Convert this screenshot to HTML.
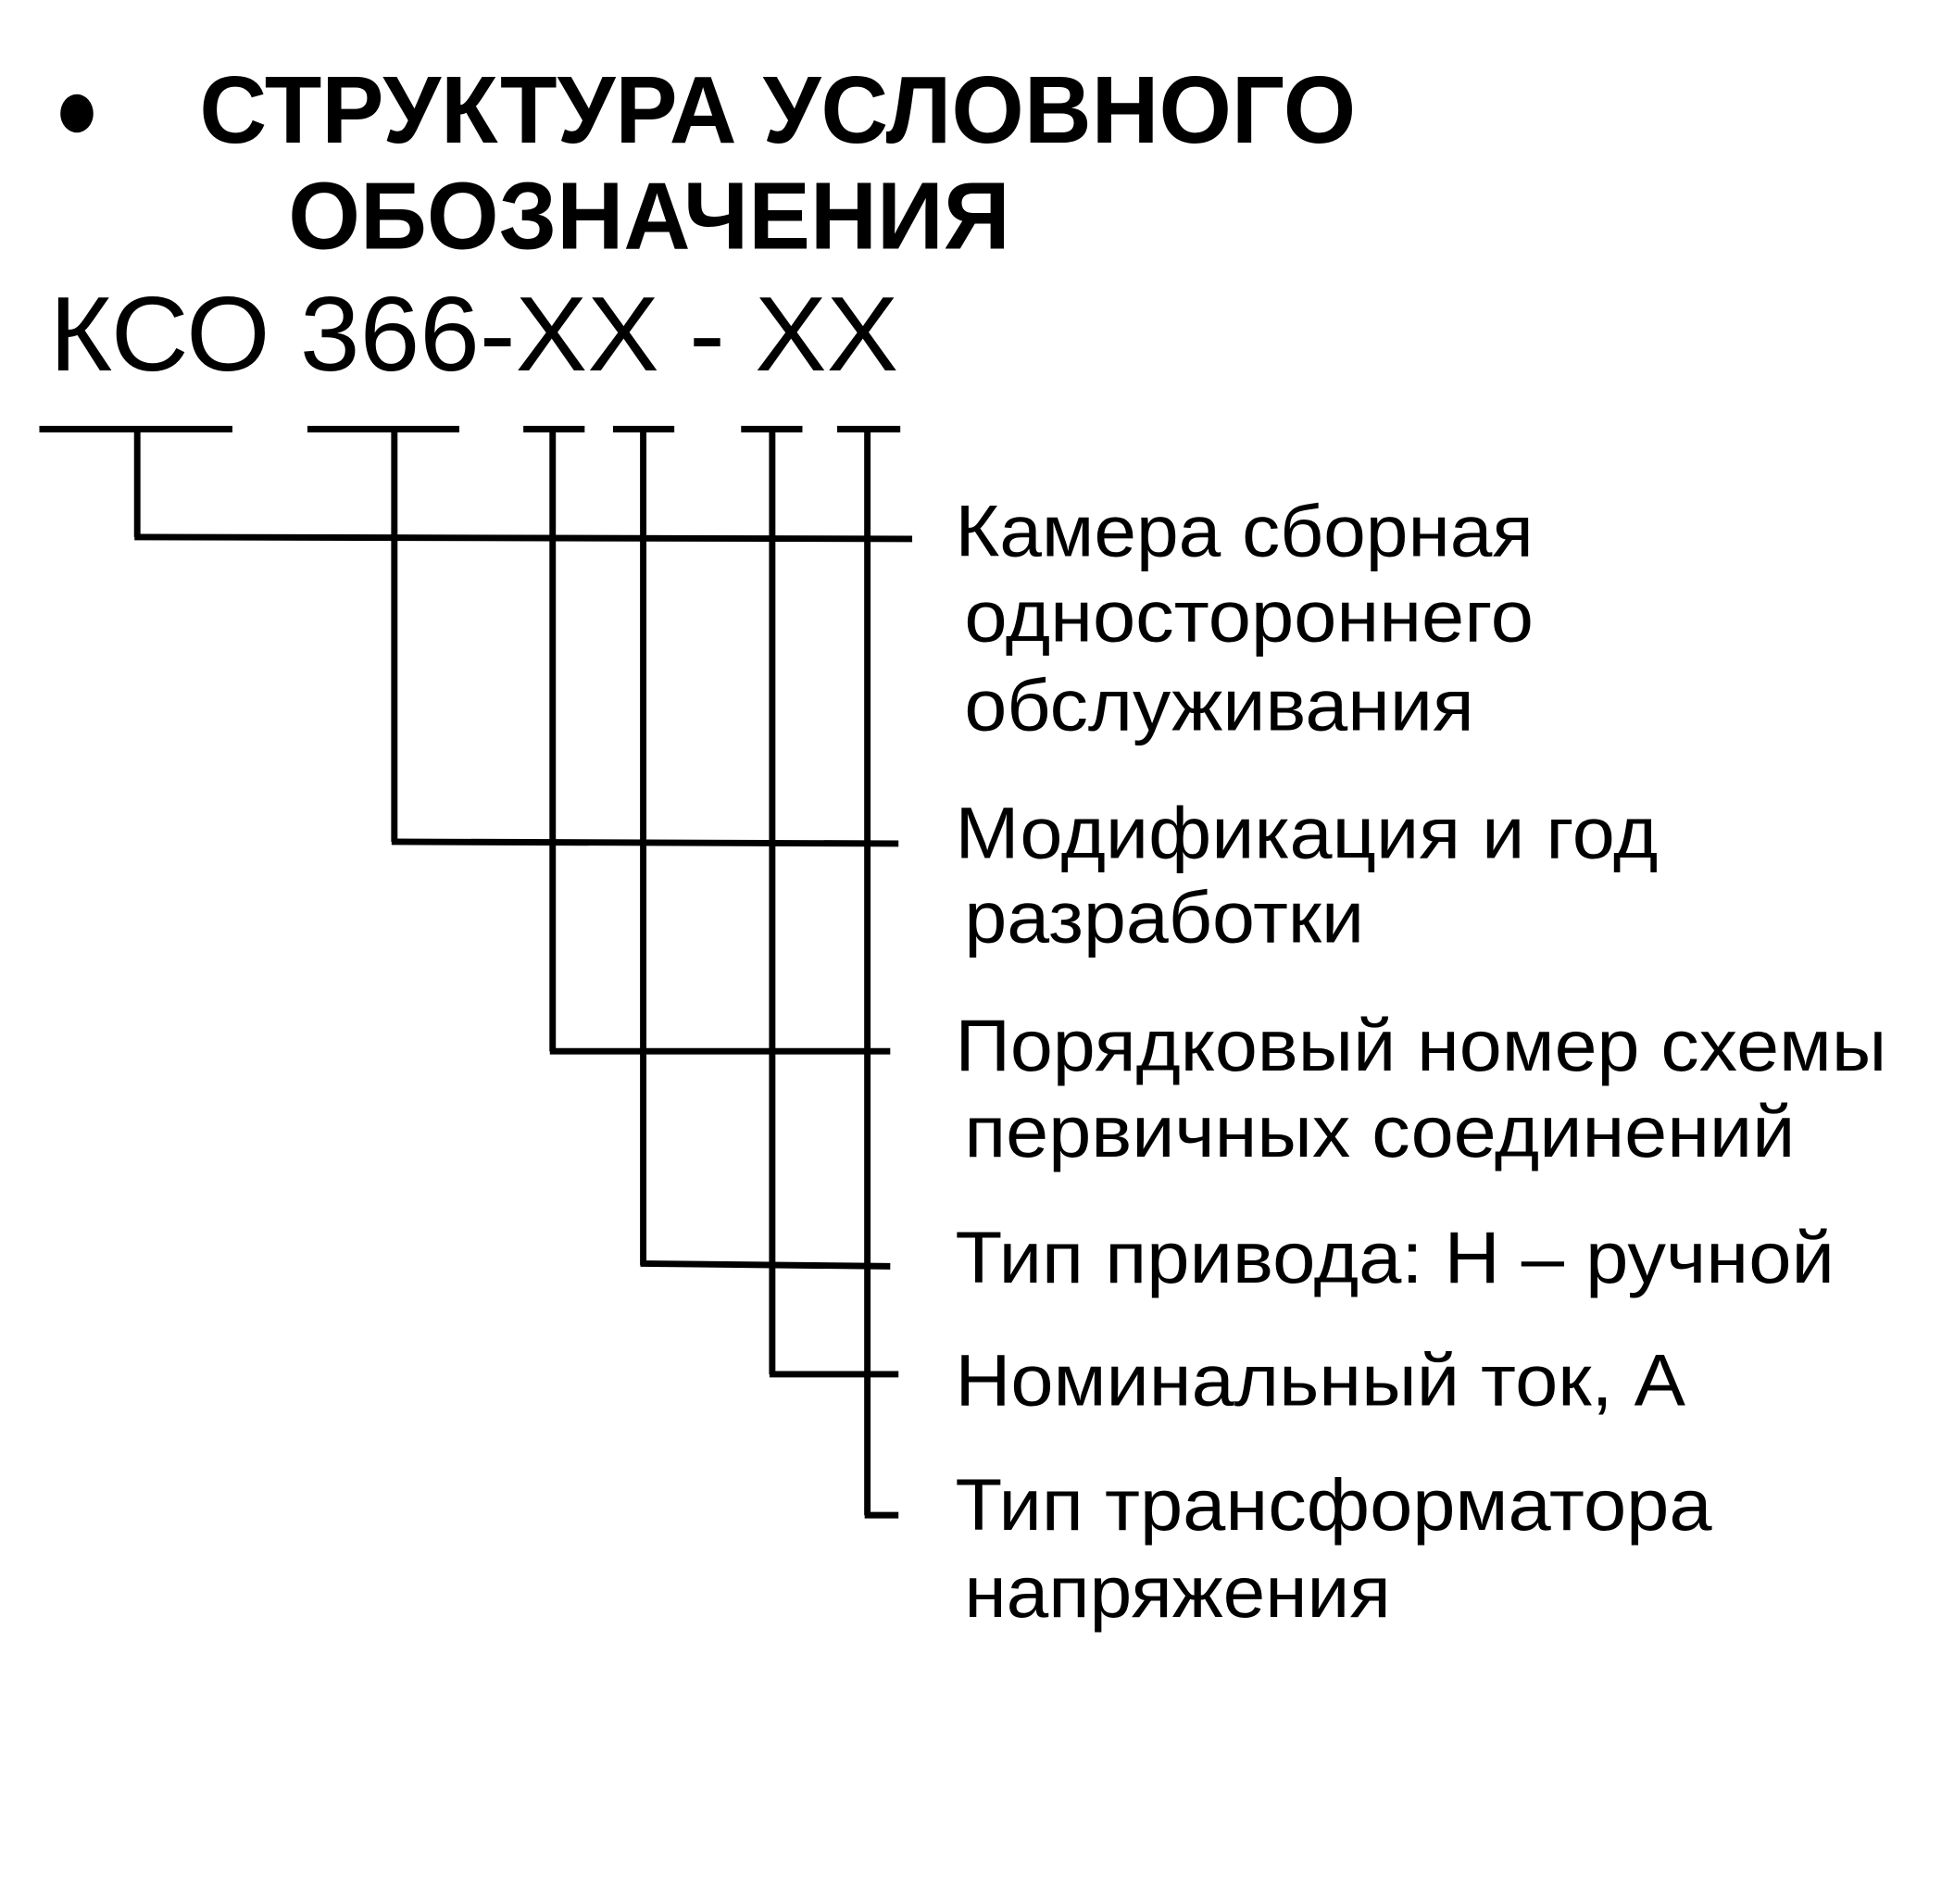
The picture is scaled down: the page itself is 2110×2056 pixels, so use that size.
<!DOCTYPE html>
<html><head><meta charset="utf-8"><style>html,body{margin:0;padding:0;background:#fff}svg{display:block}</style></head>
<body>
<svg width="2110" height="2056" viewBox="0 0 2110 2056" xmlns="http://www.w3.org/2000/svg">
<rect width="2110" height="2056" fill="#fff"/>
<g transform="scale(0.988)">
<ellipse cx="84" cy="124" rx="18" ry="21" fill="#000"/>
<g font-family="Liberation Sans, sans-serif" fill="#000">
<text x="218" y="156" font-size="104" font-weight="bold" textLength="1264" lengthAdjust="spacingAndGlyphs">СТРУКТУРА УСЛОВНОГО</text>
<text x="315" y="272" font-size="104" font-weight="bold" textLength="789" lengthAdjust="spacingAndGlyphs">ОБОЗНАЧЕНИЯ</text>
<text x="54" y="405" font-size="116" textLength="928" lengthAdjust="spacingAndGlyphs">КСО 366-ХХ - ХХ</text>
<g font-size="80">
<text x="1044" y="608" textLength="632" lengthAdjust="spacingAndGlyphs">Камера сборная</text>
<text x="1054" y="701" textLength="622" lengthAdjust="spacingAndGlyphs">одностороннего</text>
<text x="1054" y="798" textLength="557" lengthAdjust="spacingAndGlyphs">обслуживания</text>
<text x="1044" y="938" textLength="768" lengthAdjust="spacingAndGlyphs">Модификация и год</text>
<text x="1054" y="1030" textLength="437" lengthAdjust="spacingAndGlyphs">разработки</text>
<text x="1044" y="1170" textLength="1018" lengthAdjust="spacingAndGlyphs">Порядковый номер схемы</text>
<text x="1054" y="1264" textLength="908" lengthAdjust="spacingAndGlyphs">первичных соединений</text>
<text x="1044" y="1402" textLength="961" lengthAdjust="spacingAndGlyphs">Тип привода: Н – ручной</text>
<text x="1044" y="1536" textLength="798" lengthAdjust="spacingAndGlyphs">Номинальный ток, А</text>
<text x="1044" y="1672" textLength="827" lengthAdjust="spacingAndGlyphs">Тип трансформатора</text>
<text x="1054" y="1767" textLength="466" lengthAdjust="spacingAndGlyphs">напряжения</text>
</g>
</g>
<g stroke="#000" stroke-width="7" fill="none">
<line x1="43" y1="469" x2="254" y2="469"/>
<line x1="336" y1="469" x2="502" y2="469"/>
<line x1="572" y1="469" x2="639" y2="469"/>
<line x1="670" y1="469" x2="737" y2="469"/>
<line x1="810" y1="469" x2="877" y2="469"/>
<line x1="915" y1="469" x2="984" y2="469"/>
<line x1="150" y1="469" x2="150" y2="587"/>
<line x1="431" y1="469" x2="431" y2="920"/>
<line x1="604" y1="469" x2="604" y2="1149"/>
<line x1="703" y1="469" x2="703" y2="1383"/>
<line x1="844" y1="469" x2="844" y2="1502"/>
<line x1="948" y1="469" x2="948" y2="1656"/>
<line x1="147" y1="587" x2="997" y2="589"/>
<line x1="428" y1="920" x2="982" y2="922"/>
<line x1="601" y1="1149" x2="973" y2="1149"/>
<line x1="700" y1="1381" x2="973" y2="1384"/>
<line x1="841" y1="1502" x2="982" y2="1502"/>
<line x1="945" y1="1656" x2="982" y2="1656"/>
</g>
</g>
</svg>
</body></html>
